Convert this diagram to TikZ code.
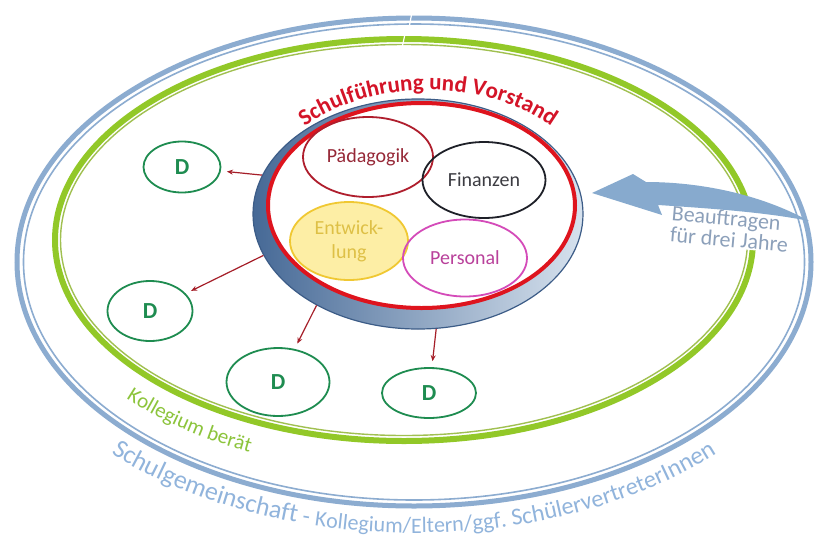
\documentclass[tikz,border=0pt]{standalone}
\usepackage{fontspec}
\setmainfont{Carlito}
\usepackage{tikz}
\usetikzlibrary{shapes.geometric, arrows.meta, decorations.text}
\usepackage{xcolor}
\definecolor{ringblue}{RGB}{140,172,208}
\definecolor{ringgreen}{RGB}{146,200,40}
\definecolor{ringolive}{RGB}{160,192,80}
\definecolor{titlered}{RGB}{212,20,40}
\definecolor{boardred}{RGB}{222,20,30}
\definecolor{diskdark}{RGB}{70,105,150}
\definecolor{disklight}{RGB}{215,226,238}
\definecolor{diskedge}{RGB}{60,92,135}
\definecolor{paedred}{RGB}{175,30,45}
\definecolor{paedtext}{RGB}{150,40,55}
\definecolor{finblack}{RGB}{30,32,40}
\definecolor{fintext}{RGB}{60,60,66}
\definecolor{entwgold}{RGB}{240,200,50}
\definecolor{entwfill}{RGB}{253,238,165}
\definecolor{entwtext}{RGB}{222,192,70}
\definecolor{persmagenta}{RGB}{212,75,185}
\definecolor{perstext}{RGB}{185,65,155}
\definecolor{deptgreen}{RGB}{30,140,80}
\definecolor{arrowred}{RGB}{165,30,40}
\definecolor{auftragblue}{RGB}{135,170,206}
\definecolor{auftragtext}{RGB}{140,160,186}
\definecolor{kollgreen}{RGB}{140,196,60}
\definecolor{commblue}{RGB}{145,180,220}

\begin{document}
\begin{tikzpicture}[
    x=1pt, y=-1pt,
    disk/.style={ellipse, draw=diskedge, line width=1.2pt, left color=diskdark, right color=disklight, minimum width=330pt, minimum height=230pt},
    board/.style={ellipse, draw=boardred, fill=white, line width=4pt, minimum width=307pt, minimum height=205pt},
    field/.style={ellipse, line width=1.8pt, inner sep=0pt, align=center, font=\fontsize{20}{24}\selectfont},
    dept/.style={ellipse, draw=deptgreen, text=deptgreen, line width=1.8pt, inner sep=0pt, font=\fontsize{23}{23}\selectfont\bfseries},
    deptarrow/.style={-{Stealth[length=6pt, width=5pt]}, line width=1.2pt, arrowred, shorten >=6pt},
    auftrag/.style={align=left, text=auftragtext, fill=white, inner sep=1pt, font=\fontsize{22}{21}\selectfont}
]

\fill[white] (0,0) rectangle (820,542);

% === Outer rings ===
\draw[ringblue, line width=5pt] (414,262) ellipse [x radius=397, y radius=244];
\draw[ringblue, line width=1.6pt] (414,262) ellipse [x radius=390.5, y radius=238];
\draw[ringgreen, line width=6pt] (404,240) ellipse [x radius=349, y radius=201];
\draw[ringolive, line width=1.4pt] (404,240) ellipse [x radius=343.5, y radius=195.5];
% small joints at the top
\draw[white, line width=1.2pt] (412,12) -- (409,28);
\draw[white, line width=1.2pt] (405,34) -- (402,48);

% === Ring labels ===
\path[decorate, decoration={text along path, text align=center,
    text={|\fontsize{26}{26}\selectfont\color{commblue}|Schulgemeinschaft|\fontsize{24}{24}\selectfont\color{commblue}| - |\fontsize{22}{22}\selectfont\color{commblue}|Kollegium/Eltern|\fontsize{23}{23}\selectfont\color{commblue}|/ggf. |\fontsize{24}{24}\selectfont\color{commblue}|Schülervertreter|\fontsize{25}{25}\selectfont\color{commblue}|Innen}}]
    (414,262) ++(145:428 and 271) arc[start angle=145, end angle=35, x radius=428, y radius=271];
\path[decorate, decoration={text along path,
    text={|\fontsize{21}{21}\selectfont\color{kollgreen}|Kollegium berät}}]
    (404,240) ++(137:380 and 232) arc[start angle=137, end angle=100, x radius=380, y radius=232];

% === Leadership ===
\node[disk] (disk) at (418,214) {};
\node[board] (board) at (421.5,205.5) {};
\path[decorate, decoration={text along path, text align=center,
    text={|\fontsize{23}{23}\selectfont\bfseries\color{titlered}|Schulführung und Vorstand}}]
    (428,215) ++(223:175 and 125) arc[start angle=223, end angle=317, x radius=175, y radius=125];

\node[field, draw=paedred, text=paedtext, minimum width=130pt, minimum height=80pt] (paed) at (368,157) {Pädagogik};
\node[field, draw=finblack, text=fintext, minimum width=123pt, minimum height=76pt] (fin) at (484,180) {Finanzen};
\node[field, draw=entwgold, fill=entwfill, text=entwtext, minimum width=118pt, minimum height=78pt] (entw) at (349,241) {Entwick-\\lung};
\node[field, draw=persmagenta, text=perstext, minimum width=124pt, minimum height=77pt] (pers) at (465,258) {Personal};

% === Departments ===
\node[dept, minimum width=77pt, minimum height=51pt] (d1) at (182,167) {D};
\node[dept, minimum width=85pt, minimum height=60pt] (d2) at (150,311) {D};
\node[dept, minimum width=103pt, minimum height=68pt] (d3) at (278,382) {D};
\node[dept, minimum width=94pt, minimum height=50pt] (d4) at (429,393) {D};

\foreach \ang/\dep in {166/d1, 195/d2, 222/d3, 279/d4}{
    \draw[deptarrow] (disk.\ang) -- (\dep);
}

% === Mandate arrow ===
\node[auftrag, rotate=-5] (auftrag) at (730,229) {Beauftragen\\für drei Jahre};
\coordinate (tip) at (592,193);
\coordinate (tail) at (809,221);
\fill[auftragblue] (tip) -- (633,174) -- (646,182)
    .. controls (700,182) and (760,194) .. (tail)
    .. controls (770,213) and (720,209) .. (658,205) -- (662,215) -- cycle;

\end{tikzpicture}
\end{document}
